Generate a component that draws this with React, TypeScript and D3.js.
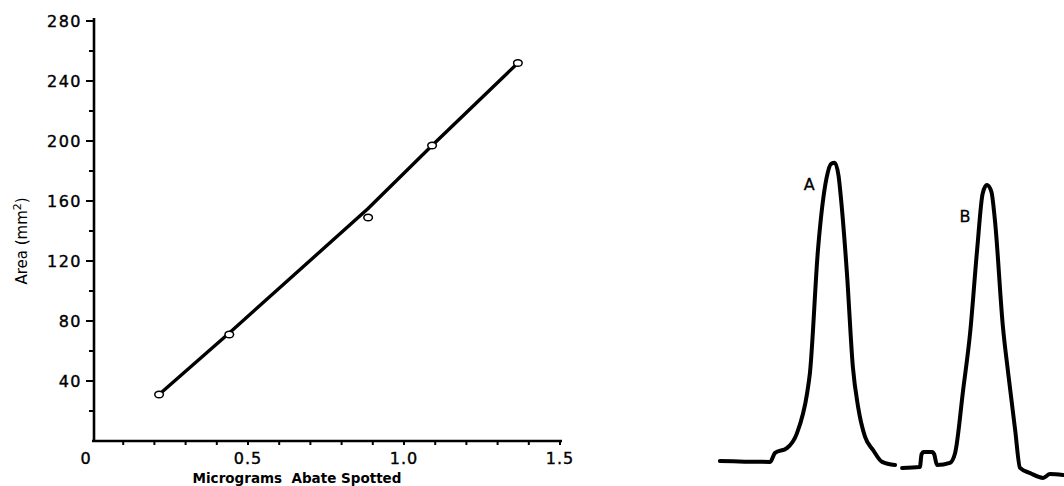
import React, { useRef, useEffect } from "react";
import * as d3 from "d3";

// calibration data (left panel)
const microgramsSpotted = [0.215, 0.44, 0.885, 1.09, 1.365];
const areaMm2 = [31, 71, 149, 197, 252];
// hand drawn calibration line
const fitX = [0.215, 0.44, 0.885, 1.09, 1.365];
const fitY = [31, 72, 155, 197, 252];

const yMajorTicks = [40, 80, 120, 160, 200, 240, 280];
const yMinorTicks = [20, 60, 100, 140, 180, 220, 260];
const xMajorTicks = [0, 0.5, 1.0, 1.5];
const xTickLabels = ["0", "0.5", "1.0", "1.5"];

// chromatogram trace (right panel), arbitrary chart units
const traceATime = [1.4, 15.8, 17.2, 20.6, 23.5, 26.4, 27.2, 29.5, 32.0, 33.3, 34.3, 35.4, 36.0, 37.8, 39.5, 41.0, 43.0, 45.3, 47.9, 51.6];
const traceASignal = [4.4, 4.1, 6.9, 8.4, 13.1, 25.6, 31.9, 70.3, 93.0, 97.3, 97.6, 93.5, 87.5, 63.1, 33.8, 21.3, 11.9, 7.8, 4.1, 3.1];
const traceBTime = [53.6, 58.7, 59.2, 59.8, 62.2, 62.8, 63.6, 67.3, 68.8, 71.1, 73.1, 75.1, 76.7, 77.9, 79.2, 80.2, 82.5, 84.0, 86.0, 87.4, 90.3, 94.0, 96.0, 99.7];
const traceBSignal = [2.2, 2.5, 6.5, 7.2, 7.2, 6.5, 3.1, 3.8, 6.9, 26.6, 44.4, 70.3, 88.0, 90.6, 88.5, 79.7, 46.3, 31.9, 14.1, 2.2, 0.6, -0.9, 0.3, 0];
const peakLabels = ["A", "B"];
const peakLabelAt = [[27.0, 89], [71.6, 79]];

const FONT = "'DejaVu Sans', sans-serif";

const App = () => {
	const svgRef = useRef(null);

	useEffect(() => {
		const svg = d3.select(svgRef.current);
		svg.selectAll("*").remove();

		const xScale = d3.scaleLinear().domain([0, 1.5]).range([92, 560]);
		const yScale = d3.scaleLinear().domain([0, 280]).range([441, 21]);

		// y axis
		const yAxis = svg.append("g").attr("transform", `translate(${xScale(0) + 2}, 0)`);
		yAxis.append("line")
			.attr("x1", 0).attr("x2", 0)
			.attr("y1", yScale(0)).attr("y2", yScale(280) - 3)
			.attr("stroke", "#000").attr("stroke-width", 2.6);
		yAxis.selectAll(".major")
			.data(yMajorTicks)
			.enter()
			.append("line")
			.attr("x1", -8).attr("x2", 0)
			.attr("y1", d => yScale(d)).attr("y2", d => yScale(d))
			.attr("stroke", "#000").attr("stroke-width", 2);
		yAxis.selectAll(".minor")
			.data(yMinorTicks)
			.enter()
			.append("line")
			.attr("x1", -5).attr("x2", 0)
			.attr("y1", d => yScale(d)).attr("y2", d => yScale(d))
			.attr("stroke", "#000").attr("stroke-width", 2);
		yAxis.selectAll("text")
			.data(yMajorTicks)
			.enter()
			.append("text")
			.attr("x", -12)
			.attr("y", d => yScale(d))
			.attr("dy", "0.36em")
			.attr("text-anchor", "end")
			.attr("font-family", FONT)
			.attr("font-size", 16)
			.attr("letter-spacing", 1.5)
			.attr("stroke", "#000")
			.attr("stroke-width", 0.4)
			.text(d => d);

		// x axis
		const xAxis = svg.append("g").attr("transform", `translate(0, ${yScale(0)})`);
		xAxis.append("line")
			.attr("x1", xScale(0)).attr("x2", xScale(1.5) + 2)
			.attr("y1", 0).attr("y2", 0)
			.attr("stroke", "#000").attr("stroke-width", 2.6);
		xAxis.selectAll(".tick")
			.data(d3.range(1, 16).map(i => i / 10))
			.enter()
			.append("line")
			.attr("x1", d => xScale(d)).attr("x2", d => xScale(d))
			.attr("y1", 0).attr("y2", 4)
			.attr("stroke", "#000").attr("stroke-width", 2);
		xAxis.selectAll("text")
			.data(xMajorTicks)
			.enter()
			.append("text")
			.attr("x", (d, i) => xScale(d) - (i === 0 ? 6 : 0))
			.attr("y", 17)
			.attr("dy", "0.36em")
			.attr("text-anchor", "middle")
			.attr("font-family", FONT)
			.attr("font-size", 16)
			.attr("letter-spacing", 1)
			.attr("stroke", "#000")
			.attr("stroke-width", 0.4)
			.text((d, i) => xTickLabels[i]);

		// axis titles
		svg.append("text")
			.attr("x", 297)
			.attr("y", 483)
			.attr("text-anchor", "middle")
			.attr("font-family", FONT)
			.attr("font-size", 13.5)
			.attr("font-weight", "bold")
			.attr("style", "white-space: pre")
			.text("Micrograms  Abate Spotted");

		const yTitle = svg.append("text")
			.attr("transform", `translate(27, 241) rotate(-90)`)
			.attr("text-anchor", "middle")
			.attr("font-family", FONT)
			.attr("font-size", 15);
		yTitle.append("tspan").text("Area (mm");
		yTitle.append("tspan").attr("dy", -6).attr("font-size", 11).text("2");
		yTitle.append("tspan").attr("dy", 6).text(")");

		// calibration line
		const fitLine = d3.line()
			.x(d => xScale(d[0]))
			.y(d => yScale(d[1]))
			.curve(d3.curveLinear);
		svg.append("path")
			.datum(fitX.map((x, i) => [x, fitY[i]]))
			.attr("d", fitLine)
			.attr("fill", "none")
			.attr("stroke", "#000")
			.attr("stroke-width", 3.4)
			.attr("stroke-linecap", "round");

		svg.append("g")
			.selectAll("ellipse")
			.data(microgramsSpotted.map((x, i) => [x, areaMm2[i]]))
			.enter()
			.append("ellipse")
			.attr("cx", d => xScale(d[0]))
			.attr("cy", d => yScale(d[1]))
			.attr("rx", 4.3)
			.attr("ry", 3.3)
			.attr("fill", "#fff")
			.attr("stroke", "#000")
			.attr("stroke-width", 1.5);

		// chromatogram
		const tScale = d3.scaleLinear().domain([0, 100]).range([715, 1064]);
		const sScale = d3.scaleLinear().domain([0, 100]).range([475, 155]);
		const trace = d3.line()
			.x(d => tScale(d[0]))
			.y(d => sScale(d[1]))
			.curve(d3.curveMonotoneX);
		[[traceATime, traceASignal], [traceBTime, traceBSignal]].forEach(([t, s]) => {
			svg.append("path")
				.datum(t.map((v, i) => [v, s[i]]))
				.attr("d", trace)
				.attr("fill", "none")
				.attr("stroke", "#000")
				.attr("stroke-width", 4)
				.attr("stroke-linejoin", "round")
				.attr("stroke-linecap", "round");
		});
		svg.selectAll(".peak")
			.data(peakLabels)
			.enter()
			.append("text")
			.attr("x", (d, i) => tScale(peakLabelAt[i][0]))
			.attr("y", (d, i) => sScale(peakLabelAt[i][1]))
			.attr("text-anchor", "middle")
			.attr("font-family", FONT)
			.attr("font-size", 16)
			.attr("stroke", "#000")
			.attr("stroke-width", 0.3)
			.text(d => d);
	}, []);

	return (
		<div>
			<svg ref={svgRef} width={1064} height={486}
				style={{ position: "absolute", left: 0, top: 0, background: "#fff" }}>
			</svg>
		</div>
	);
};

export default App;
